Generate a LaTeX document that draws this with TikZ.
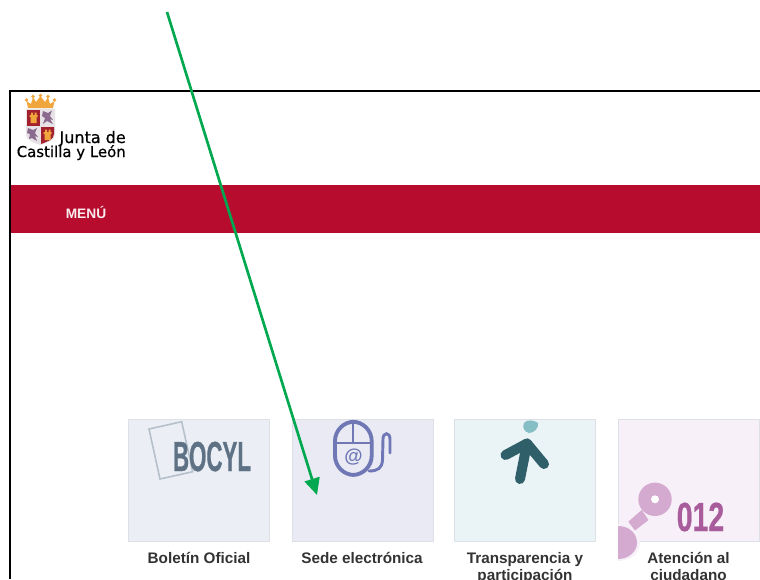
\documentclass[tikz,border=0pt]{standalone}
\usepackage{fontspec}
\setmainfont{Liberation Sans}
\newfontfamily\crestfont[FakeBold=0.6]{DejaVu Sans}
\newfontfamily\heavyfont[FakeBold=0.8]{Liberation Sans Bold}
\usetikzlibrary{arrows.meta}
\definecolor{bandred}{HTML}{B80C2F}
\definecolor{arrowgreen}{HTML}{00A94F}
\definecolor{labelink}{HTML}{333333}
\definecolor{tileborder}{HTML}{DDE0E4}
\definecolor{tileA}{HTML}{EBEFF5}
\definecolor{tileB}{HTML}{EAEAF5}
\definecolor{tileC}{HTML}{EAF3F5}
\definecolor{tileD}{HTML}{F7F0F8}
\definecolor{bocylink}{HTML}{5F7285}
\definecolor{bocylframe}{HTML}{B5C0CA}
\definecolor{mouseblue}{HTML}{6F78B5}
\definecolor{persondark}{HTML}{2F5F68}
\definecolor{personhead}{HTML}{85BEC5}
\definecolor{pinklight}{HTML}{D5AAD0}
\definecolor{pinkdark}{HTML}{A85C9C}
\definecolor{crestred}{HTML}{A3212E}
\definecolor{crestgold}{HTML}{F0A63C}
\definecolor{crestlion}{HTML}{8A6A8E}
\definecolor{crestpale}{HTML}{E6E2E6}
\tikzset{
  x=0.75pt,y=-0.75pt,
  tile/.style={draw=tileborder,line width=0.6pt,minimum width=105.75pt,minimum height=91.5pt,inner sep=0pt},
  label/.style={text=labelink,font=\fontsize{11.45pt}{12.6pt}\selectfont\bfseries,align=center,inner sep=0pt,anchor=base},
  callout/.style={draw=arrowgreen,line width=2pt,-{Triangle[length=12.5pt,width=11.5pt]}},
  person/.style={draw=persondark,line width=7.5pt,line cap=round,line join=round},
  mouseline/.style={draw=mouseblue,line width=2.9pt},
  mousethin/.style={draw=mouseblue,line width=1.5pt},
}
\begin{document}
\begin{tikzpicture}
\useasboundingbox (0,0) rectangle (760,579);
\clip (0,0) rectangle (760,579);
\fill[white] (0,0) rectangle (760,579);
% page frame
\draw[black,line width=1.5pt] (9.5,579) -- (9.5,90.5) -- (760,90.5);
% red band
\fill[bandred] (10.5,185) rectangle (760,233);
\node[text=white!92!bandred,font=\fontsize{10.3pt}{11pt}\selectfont\bfseries,inner sep=0pt] (menu) at (86,212.5) {MENÚ};
% crest
\fill[crestgold] (26.5,101) -- (31,104) -- (33,97) -- (36,102) -- (40.5,96) -- (45,102) -- (48,97) -- (50,104) -- (54.5,101) -- (53,108) -- (28,108) -- cycle;
\foreach \cx/\cy in {26.5/100,33/96.5,40.5/95.5,48/96.5,54.5/100}
  \fill[crestgold] (\cx,\cy) circle[radius=1.9];
\fill[crestpale] (26,108.5) -- (55,108.5) -- (55,134) .. controls (55,141) and (46,143) .. (40.5,145) .. controls (35,143) and (26,141) .. (26,134) -- cycle;
\fill[crestred] (27,109.5) rectangle (40,126);
\fill[crestred] (41,127) -- (54,127) -- (54,134) .. controls (54,140) and (46,142) .. (41,144) -- cycle;
\fill[crestgold] (30.5,123) rectangle (36.5,117) (29.5,117) rectangle (37.5,115) (31,115) rectangle (33,112.5) (34.5,115) rectangle (36.5,112.5);
\fill[crestgold] (44.5,140) rectangle (50.5,134) (43.5,134) rectangle (51.5,132) (45,132) rectangle (47,129.5) (48.5,132) rectangle (50.5,129.5);
\fill[crestlion] (43,111) -- (48,113) -- (52,110.5) -- (50,116) -- (53,120) -- (50,119) -- (53,124) -- (47,121) -- (43,124) -- (45,118) -- (42,116) -- cycle;
\fill[crestlion] (28,128) -- (33,130) -- (37,128) -- (35,133) -- (38,137) -- (35,136) -- (37,141) -- (32,138) -- (29,139) -- (30,134) -- (27,133) -- cycle;
\node[font=\crestfont\fontsize{12pt}{12pt}\selectfont,inner sep=0pt,anchor=base east] (junta) at (126,143) {Junta de};
\node[font=\crestfont\fontsize{11.2pt}{12pt}\selectfont,inner sep=0pt,anchor=base east] (castilla) at (126,157) {Castilla y León};
% tiles
\node[tile,fill=tileA] (t1) at (198.8,480) {};
\node[tile,fill=tileB] (t2) at (362.5,480) {};
\node[tile,fill=tileC] (t3) at (525,480) {};
\node[tile,fill=tileD] (t4) at (688.5,480) {};
% BOCYL icon
\draw[bocylframe,line width=1.2pt] (149,429) -- (181.7,421.7) -- (192.7,471.7) -- (160,479) -- cycle;
\node[text=bocylink,font=\heavyfont\fontsize{31.5pt}{32pt}\selectfont,inner sep=0pt,anchor=base] (bocyl) at (212,471) {\scalebox{0.53}[1]{BOCYL}};
% mouse icon
\draw[mouseline,rounded corners=14.5pt] (335,421.7) rectangle (371.7,475);
\draw[mousethin] (353.3,421) -- (353.3,443);
\draw[mousethin] (335,443) -- (371.7,443);
\node[text=mouseblue,font=\fontsize{14pt}{15pt}\selectfont\bfseries\itshape,inner sep=0pt] (at) at (353.3,457) {@};
\draw[mouseline,line width=2.2pt,line cap=round] (369,471) .. controls (378,471) and (382,468) .. (382.5,460) -- (383,439) .. controls (383,432) and (390,432) .. (390,439) -- (390,453);
% person icon
\fill[personhead] (524,423) .. controls (527,419) and (534,420) .. (538,423) .. controls (539,428) and (534,433) .. (529,433) .. controls (524,432) and (522,427) .. (524,423) -- cycle;
\draw[person] (520,479) -- (527,443.5);
\draw[person] (505.5,455) -- (527,443.5) -- (544,464);
% 012 icon
\fill[pinklight] (655,499.3) circle[radius=16.7];
\fill[white] (655,499.3) circle[radius=4];
\fill[pinklight] (628.3,521.7) -- (641.7,510) -- (648.5,520) -- (635,530.5) -- cycle;
\fill[tileD] (618,524) -- (621,524) .. controls (632,525) and (640,533) .. (640,543) .. controls (640,553) and (630,561) .. (618,561) -- cycle;
\fill[pinklight] (618,526) .. controls (629,526) and (637,533) .. (637,543) .. controls (637,552) and (628,559) .. (618,559) -- cycle;
\node[text=pinkdark,font=\heavyfont\fontsize{30.5pt}{31pt}\selectfont,inner sep=0pt,anchor=base] (n012) at (700.5,531) {\scalebox{0.7}[1]{012}};
% labels
\node[label] (l1) at (199,563) {Boletín Oficial};
\node[label] (l2) at (362,563) {Sede electrónica};
\node[label] (l3a) at (525,563) {Transparencia y};
\node[label] (l3b) at (525,580) {participación};
\node[label] (l4a) at (688.5,563) {Atención al};
\node[label] (l4b) at (688.5,580) {ciudadano};
% callout arrow
\coordinate (from) at (167,12);
\coordinate (to) at (317,495);
\draw[callout] (from) -- (to);
\end{tikzpicture}
\end{document}
